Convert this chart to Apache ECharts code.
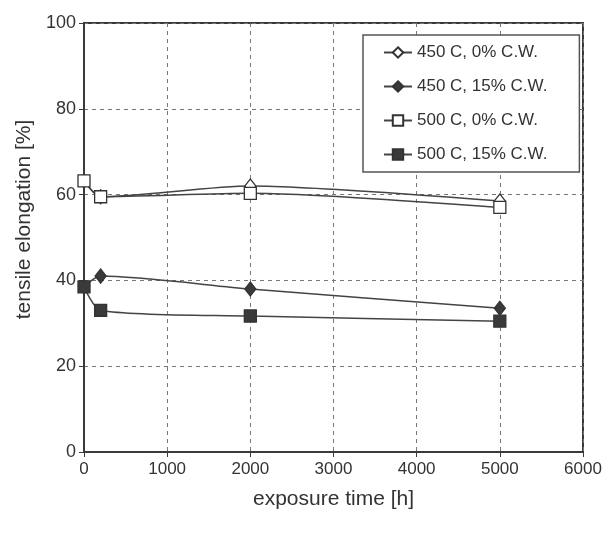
<!DOCTYPE html>
<html><head><meta charset="utf-8">
<script src="https://cdn.jsdelivr.net/npm/echarts@6/dist/echarts.min.js"></script>
<style>html,body{margin:0;padding:0;background:#fff}#c{width:614px;height:535px}</style>
</head><body><div id="c"></div>
<script>
const seriesNames = ['450 C, 0% C.W.', '450 C, 15% C.W.', '500 C, 0% C.W.', '500 C, 15% C.W.'];
const times = [0, 200, 2000, 5000];
const s450_0 = [63.2, 59.5, 62, 58.5];
const s450_15 = [38.5, 41, 38, 33.5];
const s500_0 = [63.2, 59.5, 60.3, 57];
const s500_15 = [38.5, 33, 31.7, 30.5];
const xTicks = [0, 1000, 2000, 3000, 4000, 5000, 6000];
const yTicks = [0, 20, 40, 60, 80, 100];

const dark = '#3a3a3a';
const font = 'Liberation Sans, Arial, sans-serif';
const chart = echarts.init(document.getElementById('c'));
function pairs(v){ return times.map((t,i)=>[t, v[i]]); }
const styles = [
  {symbol:'diamond', fill:'#fff', size:[11,14], z:2},
  {symbol:'diamond', fill:dark, size:[11,14], z:2},
  {symbol:'rect', fill:'#fff', size:12, z:3},
  {symbol:'rect', fill:dark, size:12, z:3}
];
const data = [s450_0, s450_15, s500_0, s500_15];
chart.setOption({
  animation:false,
  backgroundColor:'#fff',
  grid:{left:84, right:31, top:23, bottom:83, show:true, borderColor:dark, borderWidth:2, backgroundColor:'transparent'},
  legend:{
    orient:'vertical', left:363, top:35,
    padding:[9,32,9,20], itemGap:17,
    backgroundColor:'#fff', borderColor:'#555', borderWidth:1.5,
    itemWidth:28, itemHeight:13,
    textStyle:{fontFamily:font, fontSize:17, color:'#333'},
    data: seriesNames
  },
  xAxis:{
    type:'value', min:0, max:6000, interval:1000,
    name:'exposure time [h]', nameLocation:'middle', nameGap:37,
    nameTextStyle:{fontFamily:font, fontSize:21, color:'#333'},
    axisLine:{show:true, lineStyle:{color:dark, width:2}},
    axisTick:{show:true, length:5, lineStyle:{color:dark}},
    axisLabel:{fontFamily:font, fontSize:17, color:'#333', margin:9, formatter:v=>String(v)},
    splitLine:{show:true, lineStyle:{color:'#777', type:[4,4], width:1}}
  },
  yAxis:{
    type:'value', min:0, max:100, interval:20,
    name:'tensile elongation [%]', nameLocation:'middle', nameGap:45,
    nameTextStyle:{fontFamily:font, fontSize:21, color:'#333', padding:[0,0,0,36]},
    axisLine:{show:true, lineStyle:{color:dark, width:2}},
    axisTick:{show:true, length:5, lineStyle:{color:dark}},
    axisLabel:{fontFamily:font, fontSize:18, color:'#333', margin:8},
    splitLine:{show:true, lineStyle:{color:'#777', type:[4,4], width:1}}
  },
  series: seriesNames.map((n,i)=>({
    name:n, type:'line', smooth:0.25,
    data:pairs(data[i]),
    symbol:styles[i].symbol, symbolSize:styles[i].size,
    lineStyle:{color:'#444', width:1.5},
    itemStyle:{color:styles[i].fill, borderColor:'#333', borderWidth:1.3},
    z: styles[i].z
  }))
});
</script></body></html>
